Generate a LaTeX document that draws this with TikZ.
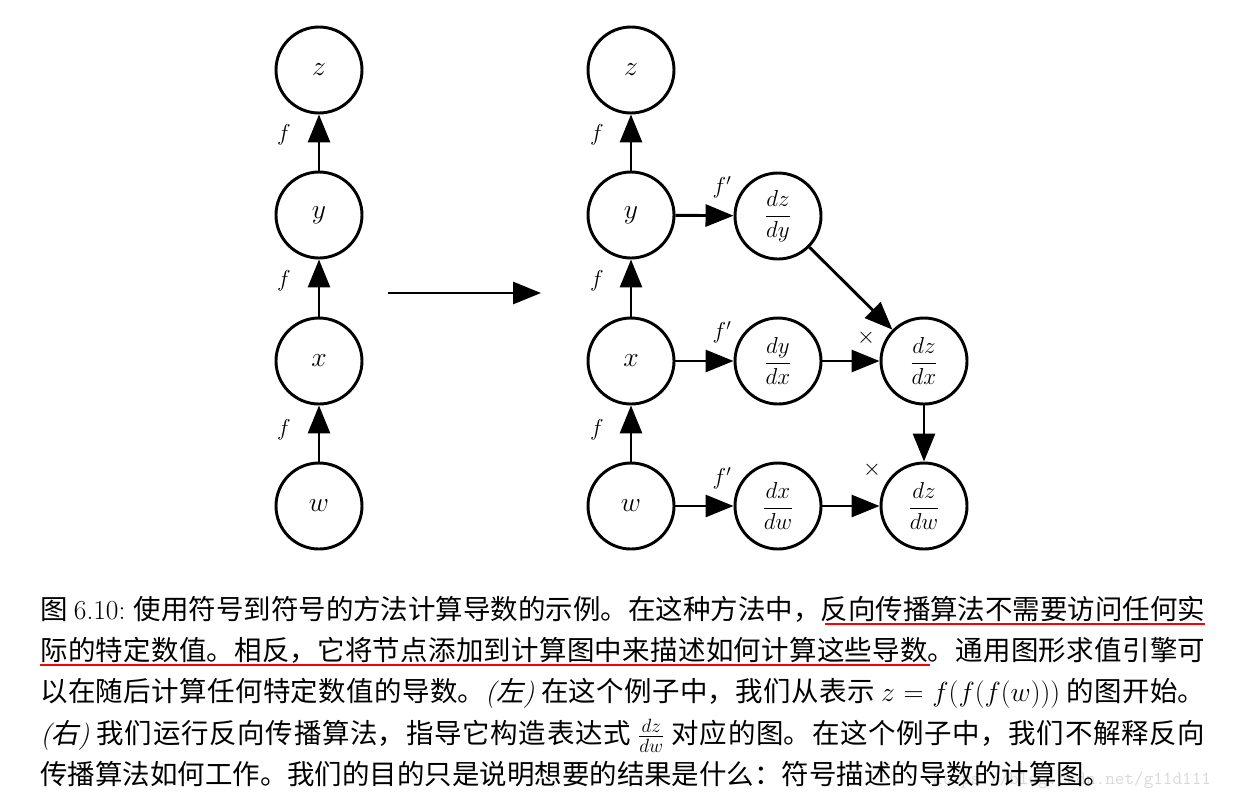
\documentclass[tikz,border=0pt]{standalone}
\usepackage{fontspec}
\newfontfamily\cjk{Noto Sans CJK SC}
\newfontfamily\cjkit{Noto Sans CJK SC}[FakeSlant=0.2]
\usetikzlibrary{arrows.meta}
\XeTeXlinebreaklocale "zh"
\XeTeXlinebreakskip=0pt plus 2pt minus 1pt
\newcommand{\capline}[1]{\parbox[b]{873.75pt}{\parfillskip=0pt\relax #1}}
\newcommand{\nfrac}[2]{{\fontsize{16.5}{20}\selectfont$\displaystyle\frac{#1}{#2}$}}
\tikzset{
  var/.style={circle, draw, line width=2.2pt, minimum size=64.5pt, inner sep=0pt, font=\fontsize{20}{24}\selectfont},
  edge/.style={line width=2.2pt, -{Triangle[length=21pt,width=16.5pt]}},
  lab/.style={font=\fontsize{17}{20}\selectfont, inner sep=0pt},
  captext/.style={font=\fontsize{20.6}{24}\selectfont\cjk, inner sep=0pt, anchor=base west},
  uline/.style={red, line width=1.9pt},
  wmark/.style={font=\fontsize{14}{16}\selectfont\ttfamily, text=black!15, anchor=base west, inner sep=0pt}
}
\begin{document}
\begin{tikzpicture}[x=0.75pt, y=-0.75pt]
\useasboundingbox (0,0) rectangle (1235,804);
% left graph
\node[var] (lz) at (319,70) {$z$};
\node[var] (ly) at (319,215) {$y$};
\node[var] (lx) at (319,361) {$x$};
\node[var] (lw) at (319,506) {$w$};
\draw[edge] (ly) -- (lz);
\draw[edge] (lx) -- (ly);
\draw[edge] (lw) -- (lx);
\node[lab] (lf1) at (284,135) {$f$};
\node[lab] (lf2) at (284,281) {$f$};
\node[lab] (lf3) at (284,430) {$f$};
% big arrow
\coordinate (bs) at (388,293);
\coordinate (be) at (541,293);
\draw[edge] (bs) -- (be);
% right graph
\node[var] (rz) at (631,70) {$z$};
\node[var] (ry) at (631,215) {$y$};
\node[var] (rx) at (631,361) {$x$};
\node[var] (rw) at (631,506) {$w$};
\node[var] (dzdy) at (778,216) {\nfrac{dz}{dy}};
\node[var] (dydx) at (778,361) {\nfrac{dy}{dx}};
\node[var] (dxdw) at (778,506) {\nfrac{dx}{dw}};
\node[var] (dzdx) at (924,361) {\nfrac{dz}{dx}};
\node[var] (dzdw) at (924,506) {\nfrac{dz}{dw}};
\draw[edge] (ry) -- (rz);
\draw[edge] (rx) -- (ry);
\draw[edge] (rw) -- (rx);
\draw[edge] (ry) -- (dzdy);
\draw[edge] (rx) -- (dydx);
\draw[edge] (rw) -- (dxdw);
\draw[edge] (dzdy) -- (dzdx);
\draw[edge] (dydx) -- (dzdx);
\draw[edge] (dzdx) -- (dzdw);
\draw[edge] (dxdw) -- (dzdw);
\node[lab] (rf1) at (597,135) {$f$};
\node[lab] (rf2) at (597,281) {$f$};
\node[lab] (rf3) at (597,430) {$f$};
\node[lab] (fp1) at (722,187) {$f'$};
\node[lab] (fp2) at (722,332) {$f'$};
\node[lab] (fp3) at (722,478) {$f'$};
\node[lab] (t1) at (866,338) {$\times$};
\node[lab] (t2) at (872,470) {$\times$};
% caption
\node[captext] (c1) at (40,619) {\capline{图 {\rmfamily 6.10:} 使用符号到符号的方法计算导数的示例。在这种方法中，反向传播算法不需要访问任何实}};
\node[captext] (c2) at (40,660) {\capline{际的特定数值。相反，它将节点添加到计算图中来描述如何计算这些导数。通用图形求值引擎可}};
\coordinate (u1a) at (825,624);
\coordinate (u1b) at (1205,624);
\coordinate (u2a) at (40,665);
\coordinate (u2b) at (930,665);
\draw[uline] (u1a) -- (u1b);
\draw[uline] (u2a) -- (u2b);
\node[captext] (c3) at (40,701) {\capline{以在随后计算任何特定数值的导数。{\rmfamily\itshape (}{\cjkit 左}{\rmfamily\itshape )} 在这个例子中，我们从表示 $z = f(f(f(w)))$ 的图开始。}};
\node[captext] (c4) at (40,743) {\capline{{\rmfamily\itshape (}{\cjkit 右}{\rmfamily\itshape )} 我们运行反向传播算法，指导它构造表达式 $\frac{dz}{dw}$ 对应的图。在这个例子中，我们不解释反向}};
\node[wmark] (wm) at (932,784) {https://blog.csdn.net/g11d111};
\node[captext] (c5) at (40,784) {传播算法如何工作。我们的目的只是说明想要的结果是什么：符号描述的导数的计算图。};
\end{tikzpicture}
\end{document}
